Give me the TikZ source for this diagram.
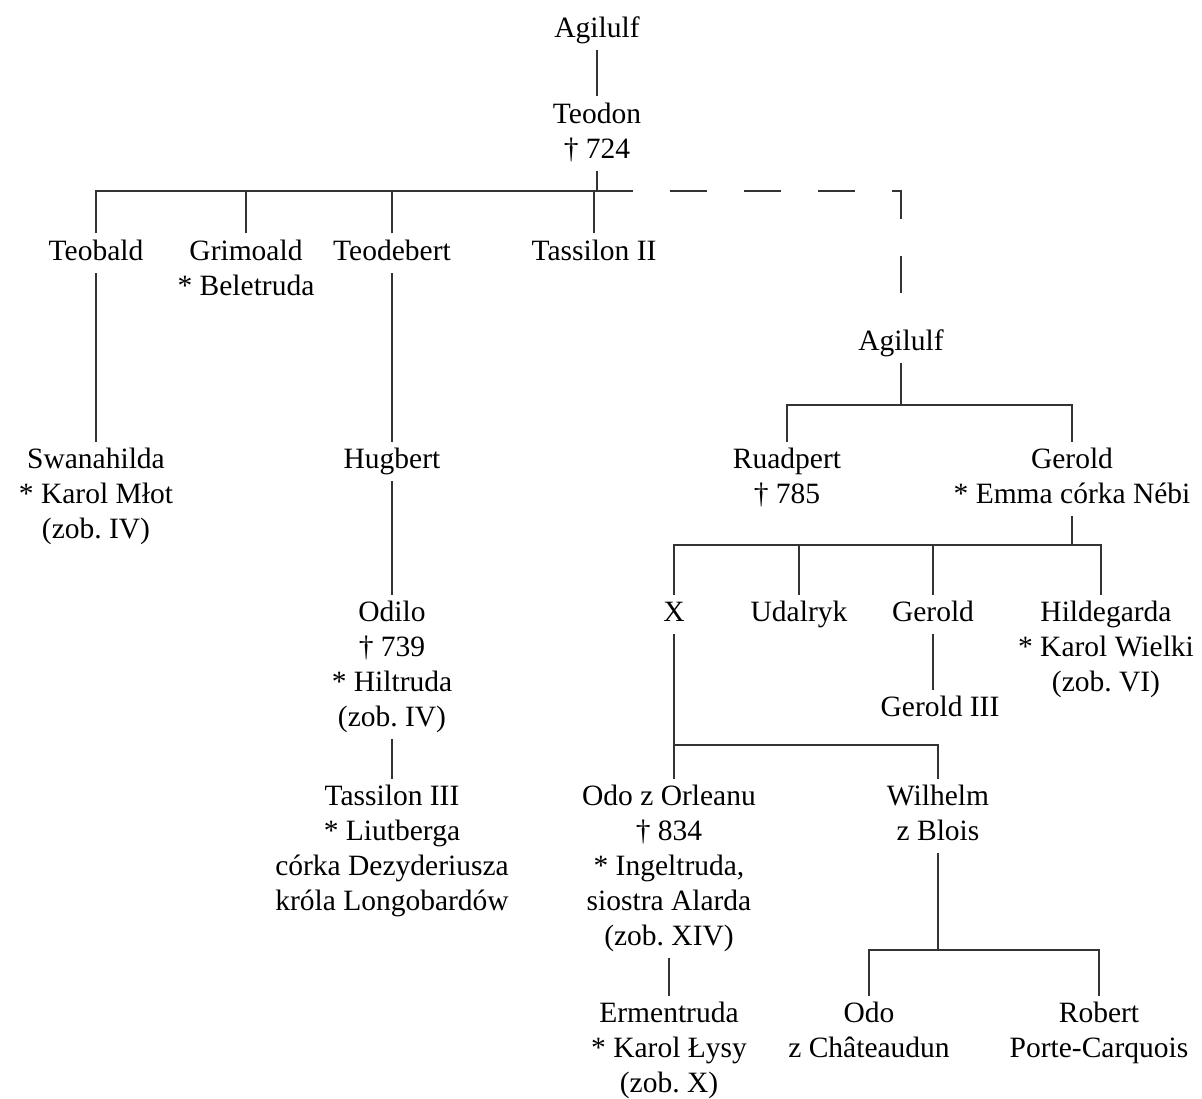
\documentclass[tikz,border=0pt]{standalone}
\usepackage{fontspec}
\setmainfont{Liberation Serif}
\begin{document}
\frenchspacing
\begin{tikzpicture}[x=1pt,y=-1pt,
  % each node is placed by the baseline of its first line
  person/.style={align=center, anchor=north, inner xsep=0pt, inner ysep=2pt,
    yshift=26.5pt, font=\fontsize{29.5}{35}\selectfont,
    execute at begin node=\strut, execute at end node=\strut},
  link/.style={draw=black!80, line width=1.1pt},
  longdash/.style={link, dash pattern=on 37pt off 37pt, dash phase=37pt}]
\useasboundingbox (0,0) rectangle (1202,1099);

% --- generations ---
\node[person] (agilulfA) at (597,37) {Agilulf};
\node[person] (teodon) at (597,123) {\strut Teodon\\† 724};

\node[person] (teobald) at (96,260) {Teobald};
\node[person] (grimoald) at (246,260) {\strut Grimoald\\* Beletruda};
\node[person] (teodebert) at (392,260) {Teodebert};
\node[person] (tassilonII) at (594,260) {Tassilon II};
\node[person] (agilulfB) at (901,350) {Agilulf};

\node[person] (swanahilda) at (96,468) {\strut Swanahilda\\* Karol Młot\\(zob. IV)};
\node[person] (hugbert) at (392,468) {Hugbert};
\node[person] (odilo) at (392,621) {\strut Odilo\\† 739\\* Hiltruda\\(zob. IV)};
\node[person] (tassilonIII) at (392,805) {\strut Tassilon III\\* Liutberga\\córka Dezyderiusza\\króla Longobardów};

\node[person] (ruadpert) at (787,468) {\strut Ruadpert\\† 785};
\node[person] (geroldA) at (1072,468) {\strut Gerold\\* Emma córka Nébi};

\node[person] (xx) at (674,621) {X};
\node[person] (udalryk) at (799,621) {Udalryk};
\node[person] (geroldB) at (933,621) {Gerold};
\node[person] (hildegarda) at (1106,621) {\strut Hildegarda\\* Karol Wielki\\(zob. VI)};
\node[person] (geroldIII) at (940,716) {Gerold III};

\node[person] (odoOrl) at (669,805) {\strut Odo z Orleanu\\† 834\\* Ingeltruda,\\siostra Alarda\\(zob. XIV)};
\node[person] (wilhelm) at (938,805) {\strut Wilhelm\\z Blois};

\node[person] (ermentruda) at (669,1022) {\strut Ermentruda\\* Karol Łysy\\(zob. X)};
\node[person] (odoCh) at (869,1022) {\strut Odo\\z Châteaudun};
\node[person] (robert) at (1099,1022) {\strut Robert\\Porte-Carquois};

% --- junction points of the sibling bars ---
\coordinate (j1) at (597,191);
\coordinate (d1) at (633,191);
\coordinate (j2) at (901,405);
\coordinate (j3) at (1072,545);
\coordinate (h3) at (1101,545);
\coordinate (j4) at (674,745);
\coordinate (j5) at (938,950);

% --- connectors ---
\draw[link] (agilulfA) -- (teodon);
\draw[link] (teodon) -- (j1);
\draw[link] (teobald.north) -- (teobald.north |- j1) -- (d1);
\draw[longdash] (d1) -| (agilulfB.north);
\draw[link] (grimoald.north) -- (grimoald.north |- j1);
\draw[link] (teodebert.north) -- (teodebert.north |- j1);
\draw[link] (tassilonII.north) -- (tassilonII.north |- j1);

\draw[link] (teobald) -- (swanahilda);
\draw[link] (teodebert) -- (hugbert);
\draw[link] (hugbert) -- (odilo);
\draw[link] (odilo) -- (tassilonIII);

\draw[link] (agilulfB) -- (j2);
\draw[link] (ruadpert.north) -- (ruadpert.north |- j2) -- (geroldA.north |- j2) -- (geroldA.north);

\draw[link] (geroldA) -- (j3);
\draw[link] (xx.north) -- (xx.north |- j3) -- (h3) -- (h3 |- hildegarda.north);
\draw[link] (udalryk.north) -- (udalryk.north |- j3);
\draw[link] (geroldB.north) -- (geroldB.north |- j3);
\draw[link] (geroldB.south) -- (geroldB.south |- geroldIII.north);

\draw[link] (xx.south) -- (xx.south |- odoOrl.north);
\draw[link] (j4) -| (wilhelm.north);
\draw[link] (odoOrl) -- (ermentruda);

\draw[link] (wilhelm) -- (j5);
\draw[link] (odoCh.north) -- (odoCh.north |- j5) -- (robert.north |- j5) -- (robert.north);
\end{tikzpicture}
\end{document}
